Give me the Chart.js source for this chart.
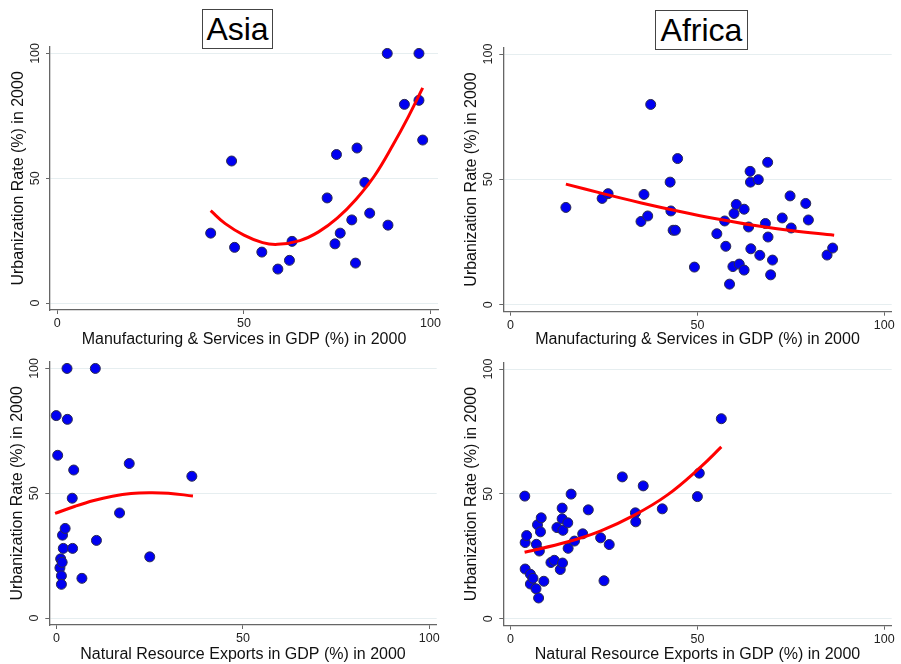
<!DOCTYPE html>
<html>
<head>
<meta charset="utf-8">
<title>Urbanization scatter</title>
<script src="https://cdn.jsdelivr.net/npm/chart.js@4/dist/chart.umd.min.js"></script>
<style>
  body { margin: 0; background: #fff; width: 901px; height: 664px; position: relative; overflow: hidden; }
  canvas { position: absolute; }
  .ttl {
    position: absolute; border: 1px solid #444; background: #fff;
    font-family: "Liberation Sans", Arial, sans-serif; font-size: 32px; color: #000;
    text-align: center; box-sizing: border-box; line-height: 38px;
  }
</style>
</head>
<body>
<div class="ttl" style="left:202px; top:9px; width:71px; height:40px;">Asia</div>
<div class="ttl" style="left:655px; top:10px; width:93px; height:40px;">Africa</div>
<canvas id="asiaMfg" width="450" height="360" style="left:0; top:0;"></canvas>
<canvas id="africaMfg" width="451" height="360" style="left:450px; top:0;"></canvas>
<canvas id="asiaNat" width="450" height="324" style="left:0; top:340px;"></canvas>
<canvas id="africaNat" width="451" height="324" style="left:450px; top:340px;"></canvas>
<script>
// tick labels
const xTicks = [0, 50, 100];
const yTicks = [0, 50, 100];

const yTitle = "Urbanization Rate (%) in 2000";
const xTitleMfg = "Manufacturing & Services in GDP (%) in 2000";
const xTitleNat = "Natural Resource Exports in GDP (%) in 2000";

// Asia: manufacturing & services share vs urbanization
const asiaMfgX = [41.1, 46.7, 47.5, 54.8, 59.1, 62.2, 62.9, 72.3, 74.8, 74.4, 75.8, 78.9, 79.9, 80.3, 82.4, 83.7, 88.4, 88.6, 93.0, 96.9, 96.9, 97.9];
const asiaMfgY = [28.0, 56.9, 22.3, 20.4, 13.6, 17.1, 24.7, 42.1, 59.5, 23.7, 28.0, 33.3, 16.0, 62.1, 48.3, 36.0, 100, 31.2, 79.6, 100, 81.2, 65.3];
// quadratic fit line
const asiaMfgFitX = [41.1, 45, 50, 55, 59, 65, 70, 75, 80, 85, 90, 94, 97.9];
const asiaMfgFitY = [37.0, 31.8, 27.2, 24.2, 23.5, 25.0, 28.5, 34.0, 41.5, 51.0, 63.5, 74.5, 86.2];

// Africa: manufacturing & services share vs urbanization
const africaMfgX = [14.8, 24.5, 26.1, 34.9, 35.7, 36.7, 37.5, 42.7, 42.9, 43.5, 44.1, 44.7, 49.2, 55.2, 57.3, 57.6, 58.6, 59.5, 59.8, 60.4, 61.2, 62.5, 62.5, 63.7, 64.1, 64.2, 64.3, 66.3, 66.7, 68.2, 68.8, 68.9, 69.6, 70.1, 72.7, 74.8, 75.1, 79.0, 79.7, 84.7, 86.2];
const africaMfgY = [38.8, 42.4, 44.3, 33.2, 44.0, 35.4, 79.9, 48.9, 37.4, 29.7, 29.7, 58.3, 15.0, 28.3, 33.4, 23.3, 8.2, 15.2, 36.4, 40.0, 16.2, 38.1, 13.8, 31.0, 53.2, 48.9, 22.3, 49.9, 19.7, 32.4, 56.8, 27.0, 11.9, 17.8, 34.6, 43.4, 30.6, 40.4, 33.8, 19.8, 22.6];
const africaMfgFitX = [14.8, 25, 35, 45, 55, 65, 75, 86.6];
const africaMfgFitY = [48.1, 44.2, 40.6, 37.3, 34.3, 31.7, 29.6, 27.7];

// Asia: natural resource exports vs urbanization
const asiaNatX = [-0.1, 0.3, 0.9, 1.1, 1.3, 1.3, 1.5, 1.6, 1.8, 2.3, 2.8, 2.9, 4.2, 4.3, 4.6, 6.8, 10.4, 10.7, 16.9, 19.5, 25.0, 36.3];
const asiaNatY = [81.1, 65.2, 20.1, 23.7, 16.9, 13.5, 22.3, 33.2, 27.9, 35.9, 100, 79.6, 48.0, 27.9, 59.3, 15.9, 100, 31.1, 42.1, 61.9, 24.5, 56.8];
const asiaNatFitX = [-0.4, 5, 10, 15, 20, 25, 30, 36.6];
const asiaNatFitY = [41.9, 44.8, 47.1, 48.8, 49.9, 50.2, 50.0, 48.9];

// Africa: natural resource exports vs urbanization
const africaNatX = [3.8, 3.9, 4.3, 3.9, 5.3, 5.3, 6.0, 6.8, 6.9, 7.2, 7.5, 7.7, 8.0, 8.2, 8.9, 10.8, 11.7, 12.4, 13.3, 13.8, 13.8, 13.9, 14.0, 15.3, 15.4, 16.2, 17.1, 19.3, 20.8, 24.1, 25.0, 26.4, 29.9, 33.4, 33.5, 35.5, 40.6, 50.0, 50.5, 56.4];
const africaNatY = [49.1, 30.5, 33.3, 19.9, 17.8, 13.9, 16.2, 12.0, 29.8, 37.6, 8.3, 27.1, 34.8, 40.4, 15.0, 22.5, 23.4, 36.5, 19.7, 44.3, 40.0, 22.3, 35.4, 38.4, 28.2, 49.9, 31.1, 34.0, 43.6, 32.4, 15.2, 29.7, 56.8, 42.4, 38.8, 53.2, 44.0, 48.9, 58.3, 80.1];
const africaNatFitX = [3.75, 15.1, 24.0, 33.0, 41.9, 50.9, 56.4];
const africaNatFitY = [26.6, 30.7, 35.1, 41.4, 49.5, 60.8, 68.8];

const pts = (xs, ys) => xs.map((x, i) => ({ x: x, y: ys[i] }));
const font = "'Liberation Sans', Arial, sans-serif";

function makePanel(id, cfg) {
    new Chart(document.getElementById(id), {
        type: "scatter",
        data: {
            datasets: [
                {
                    type: "line",
                    data: pts(cfg.fitX, cfg.fitY),
                    borderColor: "#ff0000",
                    borderWidth: 3,
                    pointRadius: 0,
                    tension: 0.4,
                    fill: false,
                    order: 0,
                },
                {
                    data: pts(cfg.x, cfg.y),
                    backgroundColor: "#0000f2",
                    borderColor: "#2b2b50",
                    borderWidth: 1,
                    pointRadius: 5,
                    order: 1,
                },
            ],
        },
        options: {
            responsive: false,
            animation: false,
            layout: { padding: { top: cfg.top, right: cfg.right, left: 0, bottom: 0 } },
            plugins: { legend: { display: false }, tooltip: { enabled: false } },
            scales: {
                x: {
                    type: "linear",
                    min: -1.95,
                    max: 102,
                    afterBuildTicks: (s) => { s.ticks = xTicks.map((v) => ({ value: v })); },
                    afterFit: (s) => { s.height = cfg.xh; },
                    grid: { drawOnChartArea: false, tickLength: 4, tickColor: "#666" },
                    border: { color: "#666", width: 1.3 },
                    ticks: { color: "#222", padding: 2, font: { family: font, size: 12.5 } },
                    title: {
                        display: true,
                        text: cfg.xTitle,
                        color: "#111",
                        font: { family: font, size: 16 },
                        padding: { top: 0, bottom: cfg.xtPad },
                    },
                },
                y: {
                    type: "linear",
                    min: -2.8,
                    max: 102.7,
                    afterBuildTicks: (s) => { s.ticks = yTicks.map((v) => ({ value: v })); },
                    afterFit: (s) => { s.width = cfg.yw; },
                    grid: { color: "#e6eef0", lineWidth: 1, tickLength: 4, tickColor: "#666" },
                    border: { color: "#666", width: 1.3 },
                    ticks: {
                        color: "#222",
                        padding: 0,
                        minRotation: 90,
                        maxRotation: 90,
                        crossAlign: "center",
                        font: { family: font, size: 12.5 },
                    },
                    title: {
                        display: true,
                        text: yTitle,
                        color: "#111",
                        font: { family: font, size: 16 },
                        padding: { top: cfg.ytPad, bottom: 0 },
                    },
                },
            },
        },
    });
}

makePanel("asiaMfg", { x: asiaMfgX, y: asiaMfgY, fitX: asiaMfgFitX, fitY: asiaMfgFitY, xTitle: xTitleMfg,
    top: 46.7, right: 12, yw: 50, xh: 50, xtPad: 10.4, ytPad: 9.1 });
makePanel("africaMfg", { x: africaMfgX, y: africaMfgY, fitX: africaMfgFitX, fitY: africaMfgFitY, xTitle: xTitleMfg,
    top: 47.3, right: 9.3, yw: 53.3, xh: 48.3, xtPad: 10.4, ytPad: 12.1 });
makePanel("asiaNat", { x: asiaNatX, y: asiaNatY, fitX: asiaNatFitX, fitY: asiaNatFitY, xTitle: xTitleNat,
    top: 21.7, right: 13.3, yw: 49.3, xh: 39, xtPad: 0, ytPad: 8.2 });
makePanel("africaNat", { x: africaNatX, y: africaNatY, fitX: africaNatFitX, fitY: africaNatFitY, xTitle: xTitleNat,
    top: 22.3, right: 9.3, yw: 53.3, xh: 38.3, xtPad: 0, ytPad: 12.1 });
</script>
</body>
</html>
